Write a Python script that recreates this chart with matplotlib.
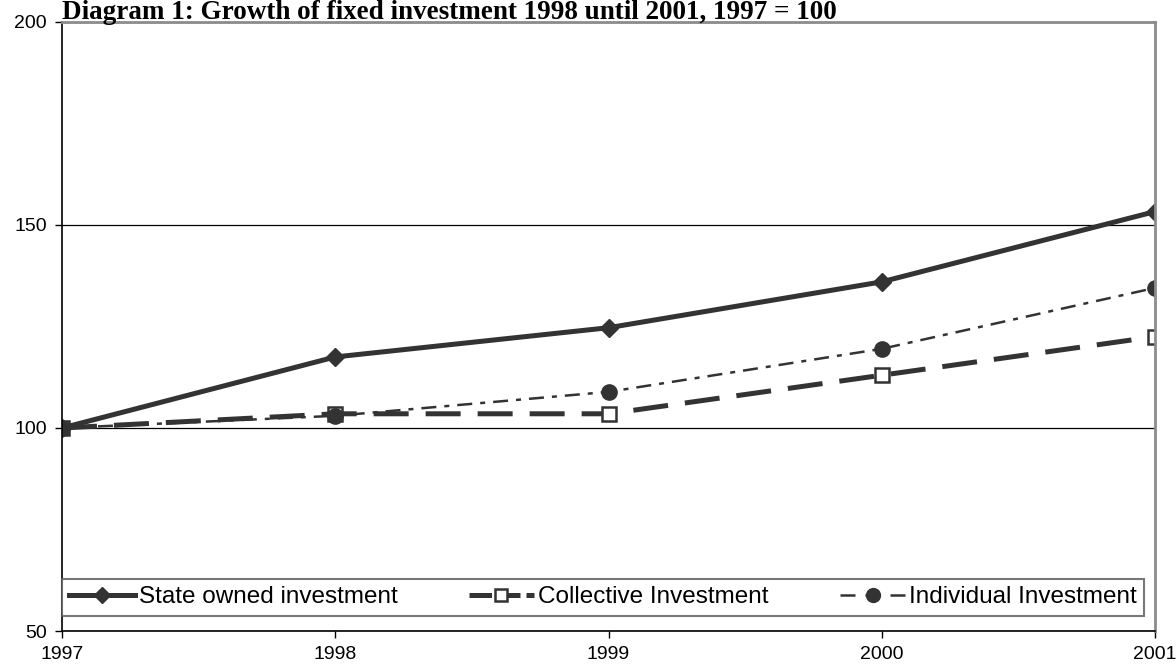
import matplotlib.pyplot as plt
from matplotlib.lines import Line2D

years = [1997, 1998, 1999, 2000, 2001]
state_owned = [100, 117.5, 124.7, 136.0, 153.3]
collective = [100, 103.5, 103.5, 113.0, 122.5]
individual = [100, 103.0, 108.9, 119.5, 134.5]

labels = ["State owned investment", "Collective Investment", "Individual Investment"]
y_ticks = [50, 100, 150, 200]

dark = "#333333"


def main():
    plt.rcParams["font.family"] = ["Liberation Sans", "DejaVu Sans"]

    fig = plt.figure(figsize=(11.76, 6.7), dpi=100)
    ax = fig.add_axes([62 / 1176, 39 / 670, 1093 / 1176, 609 / 670])

    ax.plot(years, state_owned, color=dark, lw=3.6, marker="D", ms=9,
            solid_joinstyle="round")
    ax.plot(years, collective, color=dark, lw=3.6, dashes=(7, 3.4), marker="s",
            ms=10, mfc="white", mec=dark, mew=1.8)
    ax.plot(years, individual, color=dark, lw=1.8, dashes=(6, 3.2, 2, 3.2),
            marker="o", ms=11)

    ax.set_xlim(years[0], years[-1])
    ax.set_ylim(y_ticks[0], y_ticks[-1])
    ax.set_xticks(years)
    ax.set_yticks(y_ticks)
    ax.tick_params(axis="both", direction="out", length=5, width=1,
                   labelsize=14, colors="black", pad=6)
    ax.yaxis.grid(True, color="black", lw=0.9)
    ax.set_axisbelow(True)

    for side in ["left", "bottom"]:
        ax.spines[side].set_color("black")
        ax.spines[side].set_linewidth(1.2)
    for side in ["top", "right"]:
        ax.spines[side].set_color("#8c8c8c")
        ax.spines[side].set_linewidth(2)

    handles = [
        Line2D([], [], color=dark, lw=3.6, marker="D", ms=8),
        Line2D([], [], color=dark, lw=3.6, dashes=(4.5, 1.2), marker="s", ms=9,
               mfc="white", mec=dark, mew=1.8),
        Line2D([], [], color=dark, lw=1.8, dashes=(6, 4), marker="o", ms=10),
    ]
    leg = ax.legend(handles, labels, loc="lower left", ncol=3,
                    bbox_to_anchor=(0, 0.025, 0.99, 0.08), mode="expand",
                    fontsize=17.5, frameon=True, fancybox=False,
                    handlelength=2.7, handletextpad=0.15, borderaxespad=0,
                    borderpad=0.3, columnspacing=1.0)
    leg.get_frame().set_edgecolor("#555555")
    leg.get_frame().set_linewidth(1.5)

    fig.text(62 / 1176, 1 - 19 / 670,
             "Diagram 1: Growth of fixed investment 1998 until 2001, 1997 = 100",
             family="Liberation Serif", weight="bold", fontsize=19.5, va="baseline")

    fig.savefig("out.png")


if __name__ == "__main__":
    main()
